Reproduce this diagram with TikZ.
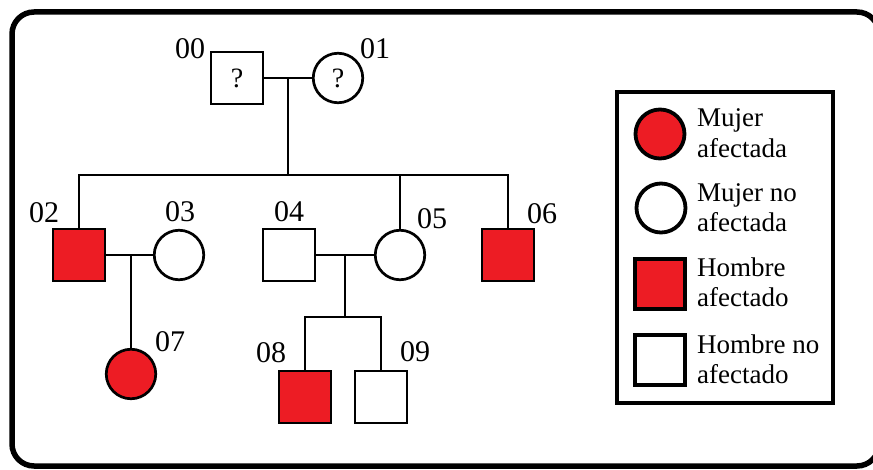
\documentclass[tikz,border=0pt]{standalone}
\usepackage{fontspec}
\setmainfont{Liberation Serif}
\usetikzlibrary{calc}
\definecolor{affected}{HTML}{ED1C24}
\begin{document}
\begin{tikzpicture}[x=1pt,y=-1pt,
  line join=miter,
  male/.style={draw,line width=2.7pt,rectangle,minimum size=52pt,inner sep=0pt,fill=white},
  female/.style={draw,line width=2.7pt,circle,minimum size=49.5pt,inner sep=0pt,fill=white},
  sick/.style={fill=affected},
  idlabel/.style={inner sep=0pt,font=\fontsize{30}{30}\selectfont},
  unknown/.style={font=\fontsize{28}{28}\selectfont},
  link/.style={line width=2.7pt},
  legmale/.style={draw,line width=3.8pt,rectangle,minimum size=50pt,inner sep=0pt},
  legfemale/.style={draw,line width=3.8pt,circle,minimum size=49pt,inner sep=0pt},
  legtext/.style={anchor=base west,inner sep=0pt,font=\fontsize{27}{27}\selectfont},
]
\useasboundingbox (0,0) rectangle (873,470);
\fill[white] (0,0) rectangle (873,470);

% outer frame
\draw[line width=5.5pt,rounded corners=22pt] (12,12) rectangle (879,466);

% generation I
\node[male,unknown] (n00) at (237,78) {?};
\node[female,unknown] (n01) at (338,78) {?};

% generation II
\node[male,sick] (n02) at (79,255) {};
\node[female] (n03) at (179,255) {};
\node[male] (n04) at (289,255) {};
\node[female] (n05) at (400,255) {};
\node[male,sick] (n06) at (508,255) {};

% generation III
\node[female,sick] (n07) at (131,374) {};
\node[male,sick] (n08) at (305,397) {};
\node[male] (n09) at (381,397) {};

% identifiers
\node[idlabel] (l00) at (190,49) {00};
\node[idlabel] (l01) at (375,49) {01};
\node[idlabel] (l02) at (44,213) {02};
\node[idlabel] (l03) at (180,212) {03};
\node[idlabel] (l04) at (289,212) {04};
\node[idlabel] (l05) at (432,219) {05};
\node[idlabel] (l06) at (542,214) {06};
\node[idlabel] (l07) at (170,342) {07};
\node[idlabel] (l08) at (271,353) {08};
\node[idlabel] (l09) at (415,352) {09};

% couple 00 x 01 and their children
\coordinate (c0) at ($(n00.east)!0.5!(n01.west)$);
\coordinate (bar0) at (0,175);
\draw[link] (n00.east) -- (n01.west);
\draw[link] (c0) -- (c0 |- bar0);
\draw[link] (n02.north) -- (n02.north |- bar0) -- (n06.north |- bar0) -- (n06.north);
\draw[link] (n05.north) -- (n05.north |- bar0);

% couple 02 x 03 and their daughter
\coordinate (c1) at (n07.north |- n02.east);
\draw[link] (n02.east) -- (n03.west);
\draw[link] (c1) -- (n07.north);

% couple 04 x 05 and their sons
\coordinate (c2) at ($(n04.east)!0.5!(n05.west)$);
\coordinate (bar2) at (0,317);
\draw[link] (n04.east) -- (n05.west);
\draw[link] (c2) -- (c2 |- bar2);
\draw[link] (n08.north) -- (n08.north |- bar2) -- (n09.north |- bar2) -- (n09.north);

% legend
\draw[line width=3.5pt] (617,92) rectangle (833,403);
\node[legfemale,fill=affected] (k1) at (660,134) {};
\node[legfemale,fill=white] (k2) at (661,208) {};
\node[legmale,fill=affected] (k3) at (660,284) {};
\node[legmale,fill=white] (k4) at (660,360) {};
\node[legtext] (t1a) at (697,127) {Mujer};
\node[legtext] (t1b) at (697,158) {afectada};
\node[legtext] (t2a) at (697,202) {Mujer no};
\node[legtext] (t2b) at (697,232) {afectada};
\node[legtext] (t3a) at (697,277) {Hombre};
\node[legtext] (t3b) at (697,307) {afectado};
\node[legtext] (t4a) at (697,353) {Hombre no};
\node[legtext] (t4b) at (697,384) {afectado};
\end{tikzpicture}
\end{document}
